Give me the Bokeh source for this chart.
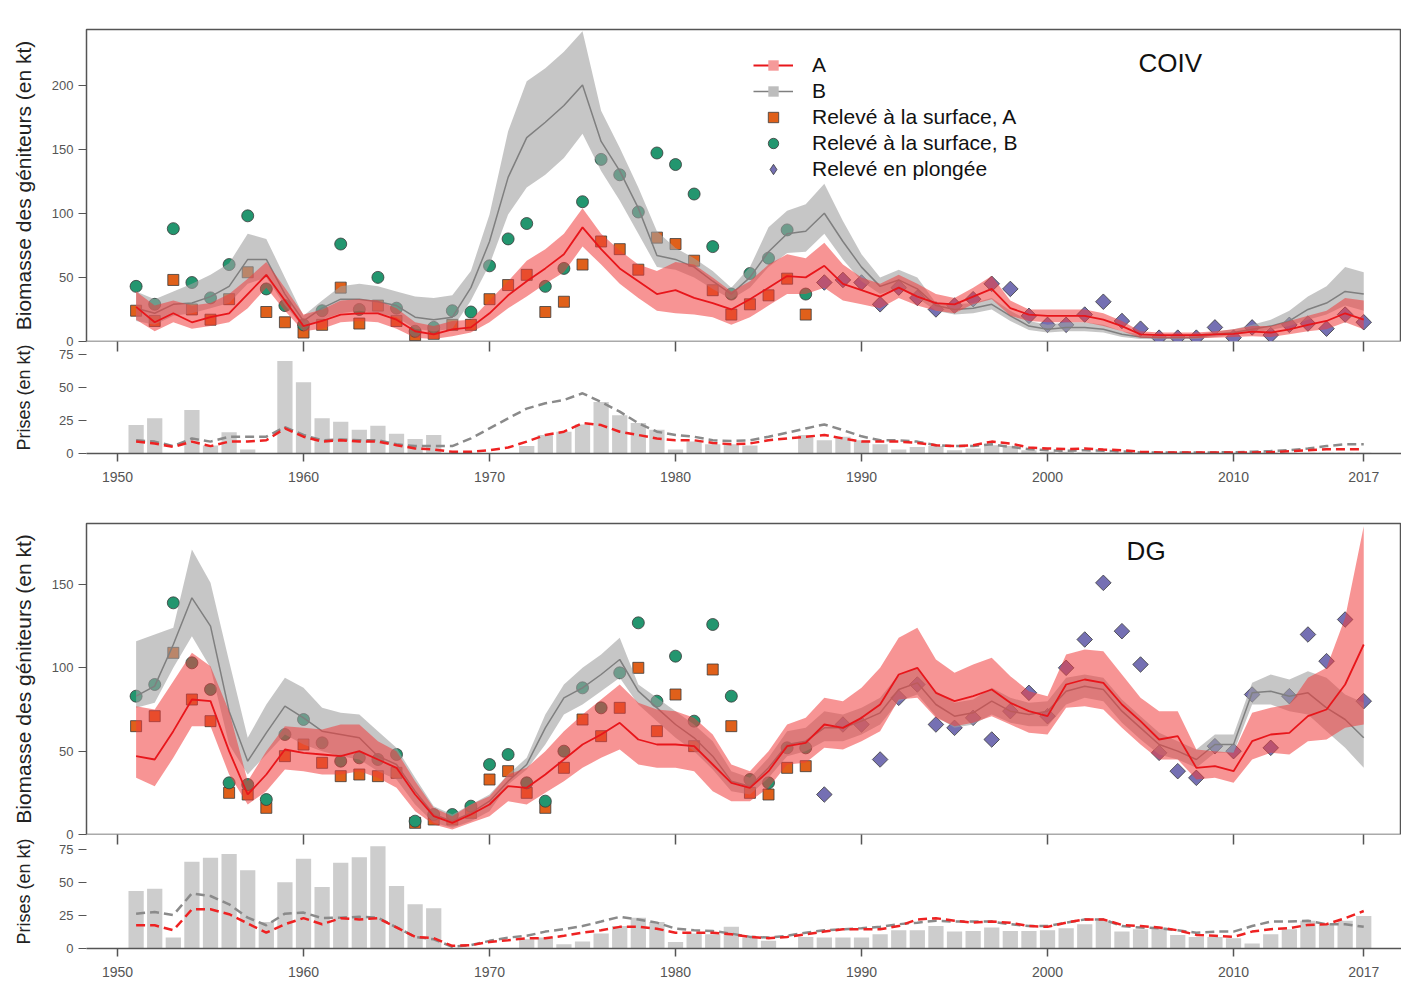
from bokeh.plotting import figure
from bokeh.layouts import column
from bokeh.models import Range1d, FixedTicker, Label, Legend, LegendItem, LinearAxis
from bokeh.embed import file_html
from bokeh.resources import INLINE

# ---------------- data ----------------
years = list(range(1951, 2018))
survey_years = list(range(1951, 1988))
dive_years = list(range(1988, 2018))
x_ticks = [1950, 1960, 1970, 1980, 1990, 2000, 2010, 2017]

# COIV -------------------------------------------------------------
coiv_a_med = [27, 15, 22, 15, 19, 22, 37, 52, 32, 12, 16, 21, 22, 22, 17, 8, 5.5, 9.5, 11, 22,
              36, 47, 57, 68, 89, 72, 57, 47, 37, 40, 34, 30, 25, 33, 42, 51, 50, 59, 45, 40,
              35, 42, 35, 30, 29, 35, 41, 26, 21, 20, 20, 20, 17, 12, 5.6, 5, 5, 5, 5.6, 6,
              7.7, 7, 9.5, 13, 16, 22, 17]
coiv_a_lo = [17, 8, 15, 10, 12, 15, 26, 42, 24, 8, 10, 15, 16, 15, 10, 3, 2, 4, 7, 15,
             26, 35, 45, 54, 74, 60, 45, 34, 24, 22, 21, 19, 13, 19, 28, 37, 37, 42, 32, 29,
             26, 34, 28, 24, 22, 29, 33, 20, 16, 15, 15, 15, 12, 8, 3, 2.5, 2.5, 2.5, 3, 3.5,
             4, 3.5, 5.6, 8, 9.5, 15, 9.5]
coiv_a_hi = [39, 28, 32, 28, 30, 37, 49, 62, 42, 21, 25, 32, 33, 32, 26, 15, 12, 16, 17, 32,
             47, 63, 72, 84, 104, 84, 71, 60, 55, 62, 60, 50, 39, 47, 60, 68, 65, 77, 60, 50,
             45, 52, 45, 37, 34, 42, 51, 32, 25, 25, 25, 25, 22, 16, 8, 7, 7, 7, 8, 9.5,
             12, 12, 16, 20, 24, 34, 32]
coiv_b_med = [26, 22, 29, 30, 35, 43, 64, 64, 37, 16, 26, 33, 33, 31, 28, 19, 17, 19, 42, 78,
              128, 159, 171, 184, 200, 156, 133, 104, 67, 64, 58, 47, 37, 50, 70, 84, 86, 100, 78, 58,
              43, 48, 41, 28, 25, 26, 29, 20, 12, 9.5, 11, 11, 9.5, 5.6, 3.5, 3, 3, 3.2, 5.6, 7,
              9.5, 12, 16, 25, 30, 39, 37]
coiv_b_lo = [16, 13, 20, 22, 26, 30, 45, 50, 28, 11, 17, 22, 24, 22, 19, 10, 8, 10, 32, 60,
             99, 120, 130, 143, 162, 133, 110, 84, 58, 56, 50, 41, 33, 42, 58, 69, 70, 84, 64, 47,
             37, 42, 34, 24, 21, 22, 25, 16, 9, 7, 8, 8, 7, 3.5, 2, 1.8, 1.8, 2, 3.5, 5,
             7, 9, 12, 17, 21, 28, 24]
coiv_b_hi = [39, 33, 39, 45, 52, 61, 84, 80, 50, 20, 32, 43, 45, 43, 39, 35, 34, 36, 55, 99,
             164, 203, 213, 226, 242, 180, 151, 120, 86, 73, 65, 55, 42, 58, 89, 102, 107, 123, 94, 68,
             50, 56, 50, 30, 29, 30, 34, 24, 16, 13, 15, 15, 13, 8, 5.6, 5, 5, 5.6, 7.7, 9.5,
             13, 17, 24, 35, 43, 58, 54]
coiv_surf_a = [24, 16, 48, 25, 17, 33, 54, 23, 15, 7, 13, 42, 14, 28, 16, 5, 6, 13, 13, 33,
               44, 52, 23, 31, 60, 78, 72, 56, 81, 76, 63, 40, 21, 29, 36, 49, 21]
coiv_surf_b = [43, 29, 88, 46, 34, 60, 98, 41, 28, 13, 24, 76, 25, 50, 26, 8, 11, 24, 23, 59,
               80, 92, 43, 57, 109, 142, 130, 101, 147, 138, 115, 74, 37, 53, 65, 87, 37]
coiv_dive = [46, 48, 46, 29, 42, 34, 25, 28, 33, 45, 41, 20, 13, 13, 21, 31, 16, 10, 3, 3,
             3, 11, 3, 11, 5, 13, 14, 10, 21, 15]
coiv_catch = [21.5, 26.6, 0, 33, 6, 16, 3, 0, 70, 54, 26.6, 24, 18, 21, 15, 11, 14, 0, 0, 0,
              0, 5.6, 14, 16.5, 22, 39, 29, 23, 18, 3, 9, 7, 7, 6, 0, 0, 14, 10, 12.7, 10,
              7, 3, 5, 5.6, 2.5, 3.8, 6.3, 5.6, 2.5, 1.3, 1.3, 0.8, 0.8, 0.8, 0.5, 0.5, 0.5, 0.5, 0.5, 0.5,
              0.5, 0.5, 0.5, 0.5, 0.5, 0.5, 0.5]
coiv_catch_a = [9, 7.6, 5, 9, 5.6, 9, 9, 10, 19, 12.7, 9, 10, 9, 9, 6.3, 3.8, 3, 1.3, 1.3, 2.5,
                4.5, 9, 14, 16.5, 23, 21.5, 16.5, 14, 11.4, 10, 10, 8, 7, 7.6, 10, 11.4, 12.7, 14, 11.4, 9,
                9, 9, 8, 6.3, 5.6, 6.3, 9, 7.6, 4.5, 3.8, 3.3, 3.8, 3, 2.5, 1.3, 0.8, 0.8, 0.8, 0.8, 0.8,
                0.8, 1, 1.8, 2.5, 3.3, 3.3, 3.3]
coiv_catch_b = [10, 9, 5.6, 11.4, 9, 12.7, 12.7, 12.7, 20, 14, 10, 10.6, 10, 10, 7, 5.6, 5.6, 5.6, 11.4, 19,
                26.6, 34, 38, 40.5, 45.6, 39, 31.7, 23, 16.5, 14, 12.7, 10, 9.5, 10, 12.7, 15.7, 19, 22, 17.7, 13,
                10, 10, 9, 6.3, 5.6, 5.6, 7, 5, 3.3, 2.5, 2, 2.5, 2, 1.5, 0.8, 0.8, 0.8, 0.8, 0.8, 1,
                1.3, 1.8, 2.5, 3.8, 5.6, 7, 7]

# DG -----------------------------------------------------------------
dg_a_med = [47, 45, 62, 81, 80, 50, 24, 36, 51, 49, 48, 47, 50, 45, 40, 24, 11, 7, 12, 18,
            29, 28, 36, 45, 54, 60, 67, 57, 54, 54, 53, 42, 31, 28, 38, 53, 55, 66, 64, 70,
            78, 96, 100, 85, 80, 83, 87, 79, 74, 71, 90, 93, 91, 78, 68, 57, 59, 40, 41, 38,
            56, 60, 61, 71, 75, 90, 114]
dg_a_lo = [34, 29, 46, 65, 65, 36, 18, 26, 39, 38, 36, 36, 38, 34, 28, 14, 6, 3, 7, 11,
           20, 18, 25, 32, 40, 46, 51, 42, 40, 40, 38, 26, 20, 20, 28, 42, 43, 52, 51, 56,
           62, 81, 82, 70, 65, 67, 71, 66, 61, 60, 76, 77, 75, 64, 54, 45, 45, 33, 34, 31,
           45, 49, 48, 56, 57, 64, 66]
dg_a_hi = [77, 75, 92, 109, 101, 74, 32, 50, 65, 64, 63, 66, 66, 56, 50, 32, 16, 11, 18, 23,
           36, 40, 50, 62, 72, 81, 90, 79, 75, 74, 70, 60, 42, 38, 50, 66, 70, 82, 80, 88,
           100, 118, 124, 105, 97, 102, 106, 95, 86, 83, 108, 111, 110, 96, 82, 74, 74, 51, 50, 49,
           73, 76, 78, 94, 100, 130, 185]
dg_b_med = [83, 89, 114, 142, 125, 74, 44, 61, 77, 70, 62, 60, 58, 47, 42, 26, 12, 8, 13, 20,
            32, 42, 64, 82, 88, 96, 105, 86, 76, 66, 58, 47, 32, 29, 40, 54, 56, 64, 64, 68,
            73, 87, 91, 78, 71, 73, 80, 74, 72, 74, 86, 89, 87, 74, 64, 54, 50, 45, 54, 54,
            85, 86, 83, 85, 76, 69, 58]
dg_b_lo = [76, 79, 100, 119, 100, 54, 36, 48, 60, 54, 50, 47, 45, 38, 33, 18, 7, 4, 8, 14,
           30, 39, 54, 72, 78, 86, 94, 78, 68, 58, 50, 39, 26, 24, 34, 47, 50, 56, 56, 60,
           66, 80, 84, 71, 64, 66, 72, 67, 65, 65, 78, 82, 80, 67, 57, 48, 45, 40, 49, 49,
           78, 78, 74, 72, 62, 52, 40]
dg_b_hi = [116, 120, 124, 171, 151, 104, 58, 78, 94, 88, 76, 73, 72, 62, 52, 34, 17, 12, 18, 24,
           36, 46, 72, 90, 100, 108, 118, 90, 82, 74, 66, 56, 38, 34, 46, 62, 64, 74, 72, 76,
           82, 96, 100, 86, 79, 81, 88, 82, 79, 80, 94, 96, 94, 81, 71, 61, 56, 51, 60, 60,
           91, 96, 93, 98, 94, 84, 79]
dg_surf_a = [65, 71, 109, 81, 68, 25, 24, 16, 47, 54, 43, 35, 36, 35, 37, 7, 9, 9, 13, 33,
             38, 25, 16, 40, 69, 59, 76, 100, 62, 84, 53, 99, 65, 25, 24, 40, 41]
dg_surf_b = [83, 90, 139, 103, 87, 31, 30, 21, 60, 69, 55, 44, 46, 45, 48, 8, 12, 12, 17, 42,
             48, 31, 20, 50, 88, 76, 97, 127, 80, 107, 68, 126, 83, 33, 31, 52, 52]
dg_dive = [24, 66, 66, 45, 82, 90, 66, 64, 70, 57, 74, 85, 71, 100, 117, 151, 122, 102, 49, 38,
           34, 53, 50, 84, 52, 83, 120, 104, 129, 80]
dg_catch = [43.5, 45.3, 8.3, 65.7, 68.7, 71.7, 59.4, 20, 50.3, 68, 46.6, 65, 69.2, 77.5, 47.3, 33.5, 30.5, 0, 0, 0,
            0, 7, 8.3, 3.3, 5.3, 11.3, 17, 23.4, 20, 5, 11.3, 10.8, 16.4, 8.3, 5.8, 0, 8.8, 8.3, 8.3, 8.3,
            10.8, 13.8, 13.8, 17, 12.8, 13.3, 15.9, 13.3, 13.3, 13.8, 15.4, 18.4, 21, 12.8, 14.6, 15.9, 10.3, 8.8, 8.8, 7.8,
            3.8, 10.8, 14.6, 21, 18.4, 21, 24.7]
dg_catch_a = [17.6, 17.6, 13.8, 29.7, 29.7, 26, 19, 12, 18.4, 23, 18.4, 23, 22, 23, 16, 8.8, 7.8, 2, 2.5, 5,
              6.3, 7.8, 7.8, 9.6, 12, 13.8, 16.4, 16.4, 15, 12, 12, 12, 10.8, 8.8, 7.8, 8.8, 10.8, 12.8, 14.6, 14.6,
              14.6, 17, 22, 23, 21, 19.6, 20.4, 19.6, 17, 16.4, 19.6, 22, 22, 17.9, 17, 15.9, 13.8, 10.3, 9.6, 8.8,
              12.8, 14.6, 15.4, 17.9, 18.4, 23, 28.4]
dg_catch_b = [26.4, 27.7, 25.4, 41.8, 39.8, 33.5, 23.4, 17.6, 26.4, 27.2, 23, 23.4, 24, 23.4, 16, 8.8, 7, 1.3, 2.5, 5.8,
              8.3, 9.6, 12.8, 14.6, 17, 20.4, 24, 22, 19.6, 15, 13.8, 13.3, 11.3, 8.8, 8.3, 9.6, 12, 13.8, 14.6, 15.4,
              16.4, 18.4, 19.6, 21, 20.4, 20.4, 20.4, 18.4, 17, 17, 19.6, 22, 22, 17, 15.9, 15.4, 13.8, 12, 12.8, 12.8,
              17, 20.4, 20.4, 21, 18.4, 18.4, 16.4]

# ---------------- styling ----------------
X0, X1 = 1948.333, 2019.03
FW = 1315
LEFT = 86
OVERLAP = 8
RED = "#e8161b"
RED_BAND = "#f03c3c"
GREY = "#7f7f7f"
GREY_BAND = "#a0a0a0"
SQ_C = "#e0601a"
CI_C = "#23966f"
DI_C = "#7570b3"
EDGE = "#3a3a3a"
TICK_FONT = "Liberation Sans"
TXT_FONT = "Liberation Sans"
AXC = "#555555"


def style_y(p, label_size, label_standoff):
    p.grid.visible = False
    p.background_fill_color = "white"
    for ax in p.yaxis:
        ax.major_label_text_font = TICK_FONT
        ax.major_label_text_font_size = "13px"
        ax.major_label_text_color = AXC
        ax.axis_label_text_font = TXT_FONT
        ax.axis_label_text_font_size = label_size
        ax.axis_label_text_font_style = "normal"
        ax.axis_label_text_color = "#222222"
        ax.minor_tick_line_color = None
        ax.major_tick_in = 0
        ax.major_tick_out = 8
        ax.major_tick_line_color = AXC
        ax.axis_label_standoff = label_standoff
        ax.axis_line_color = None


def main_panel(a_med, a_lo, a_hi, b_med, b_lo, b_hi, surf_a, surf_b, dive,
               ymax, yticks, frame_h, top_border, name, name_x, name_y, with_legend):
    p = figure(output_backend="svg", toolbar_location=None,
               frame_width=FW, frame_height=frame_h,
               x_range=Range1d(X0, X1), y_range=Range1d(0, ymax),
               x_axis_location=None,
               min_border_left=LEFT, min_border_right=0,
               min_border_top=top_border, min_border_bottom=OVERLAP)
    p.border_fill_color = "white"
    # survey markers (drawn first, bands lie over them)
    r_sa = p.scatter(survey_years, surf_a, marker="square", size=11,
                     fill_color=SQ_C, line_color=EDGE, line_width=0.8)
    r_sb = p.scatter(survey_years, surf_b, marker="circle", size=12,
                     fill_color=CI_C, line_color=EDGE, line_width=0.8)
    p.scatter(dive_years, dive, marker="square", angle=0.785398, size=11,
              fill_color=DI_C, line_color=EDGE, line_width=0.8)
    # model B
    p.varea(x=years, y1=b_lo, y2=b_hi, fill_color=GREY_BAND, fill_alpha=0.6)
    r_b = p.line(years, b_med, line_color=GREY, line_width=1.5)
    # model A
    p.varea(x=years, y1=a_lo, y2=a_hi, fill_color=RED_BAND, fill_alpha=0.55)
    r_a = p.line(years, a_med, line_color=RED, line_width=1.8)

    p.add_layout(Label(x=name_x, y=name_y, text=name, text_align="center",
                       text_baseline="middle", text_font=TXT_FONT,
                       text_font_size="26px", text_color="#111111"))

    p.yaxis.ticker = FixedTicker(ticks=yticks)
    p.yaxis.axis_label = "Biomasse des géniteurs (en kt)"
    p.outline_line_color = AXC
    p.outline_line_width = 1.5
    style_y(p, "21px", 14)

    if with_legend:
        # invisible (size 0) markers, used only for the legend swatches
        leg_a = p.scatter(years, a_med, marker="square", size=0,
                          fill_color="#f59a9a", line_color=None)
        leg_b = p.scatter(years, b_med, marker="square", size=0,
                          fill_color="#bdbdbd", line_color=None)
        leg_d = p.scatter(dive_years, dive, marker="diamond", size=0,
                          fill_color=DI_C, line_color=EDGE, line_width=0.8)
        items = [
            LegendItem(label="A", renderers=[r_a, leg_a]),
            LegendItem(label="B", renderers=[r_b, leg_b]),
            LegendItem(label="Relevé à la surface, A", renderers=[r_sa]),
            LegendItem(label="Relevé à la surface, B", renderers=[r_sb]),
            LegendItem(label="Relevé en plongée", renderers=[leg_d]),
        ]
        leg = Legend(items=items, location=(667, 159), padding=0, margin=0,
                     spacing=0, label_height=26, glyph_height=26, glyph_width=40,
                     label_standoff=19, label_text_font=TXT_FONT,
                     label_text_font_size="21px", label_text_color="#111111",
                     background_fill_alpha=0, border_line_color=None)
        p.add_layout(leg)
    return p


def catch_panel(catch, catch_a, catch_b, ymax, frame_h, bottom_border):
    p = figure(output_backend="svg", toolbar_location=None,
               frame_width=FW, frame_height=frame_h,
               x_range=Range1d(X0, X1), y_range=Range1d(0, ymax),
               min_border_left=LEFT, min_border_right=0,
               min_border_top=0, min_border_bottom=bottom_border)
    # pulled up over the empty bottom strip of the biomass panel
    p.margin = (-OVERLAP, 0, 0, 0)
    p.border_fill_alpha = 0
    p.vbar(x=years, top=catch, width=0.82, fill_color="#cdcdcd", line_color=None)
    p.line(years, catch_b, line_color="#8a8a8a", line_width=2.5, line_dash="9 5")
    p.line(years, catch_a, line_color="#ee2222", line_width=2.5, line_dash="9 5")
    # tick marks hanging from the biomass panel's bottom edge
    top_ax = LinearAxis(ticker=FixedTicker(ticks=x_ticks), major_tick_in=10,
                        major_tick_out=0, major_label_text_color=None,
                        major_label_text_font_size="0px", major_label_standoff=0,
                        axis_line_color=None, minor_tick_line_color=None,
                        major_tick_line_color=AXC, major_tick_line_width=1.5)
    p.add_layout(top_ax, "above")
    p.yaxis.ticker = FixedTicker(ticks=[0, 25, 50, 75])
    p.yaxis.axis_label = "Prises (en kt)"
    p.outline_line_color = None
    style_y(p, "18px", 22)
    bottom = p.below[0]
    bottom.ticker = FixedTicker(ticks=x_ticks)
    bottom.minor_tick_line_color = None
    bottom.axis_line_color = AXC
    bottom.axis_line_width = 1.5
    bottom.major_tick_line_color = AXC
    bottom.major_tick_line_width = 1.5
    bottom.major_label_text_font = TICK_FONT
    bottom.major_label_text_font_size = "14px"
    bottom.major_label_text_color = AXC
    bottom.major_tick_in = 0
    bottom.major_tick_out = 8
    bottom.major_label_standoff = 10
    return p


p1 = main_panel(coiv_a_med, coiv_a_lo, coiv_a_hi, coiv_b_med, coiv_b_lo, coiv_b_hi,
                coiv_surf_a, coiv_surf_b, coiv_dive,
                243.3, [0, 50, 100, 150, 200], 312, 29, "COIV", 2006.6, 217, True)
p2 = catch_panel(coiv_catch, coiv_catch_a, coiv_catch_b, 84.8, 112, 40)
p3 = main_panel(dg_a_med, dg_a_lo, dg_a_hi, dg_b_med, dg_b_lo, dg_b_hi,
                dg_surf_a, dg_surf_b, dg_dive,
                186.6, [0, 50, 100, 150], 311, 30, "DG", 2005.3, 170, False)
p4 = catch_panel(dg_catch, dg_catch_a, dg_catch_b, 86.4, 114, 30)

layout = column(p1, p2, p3, p4, spacing=0)
open("out.html", "w").write(file_html(layout, INLINE))
